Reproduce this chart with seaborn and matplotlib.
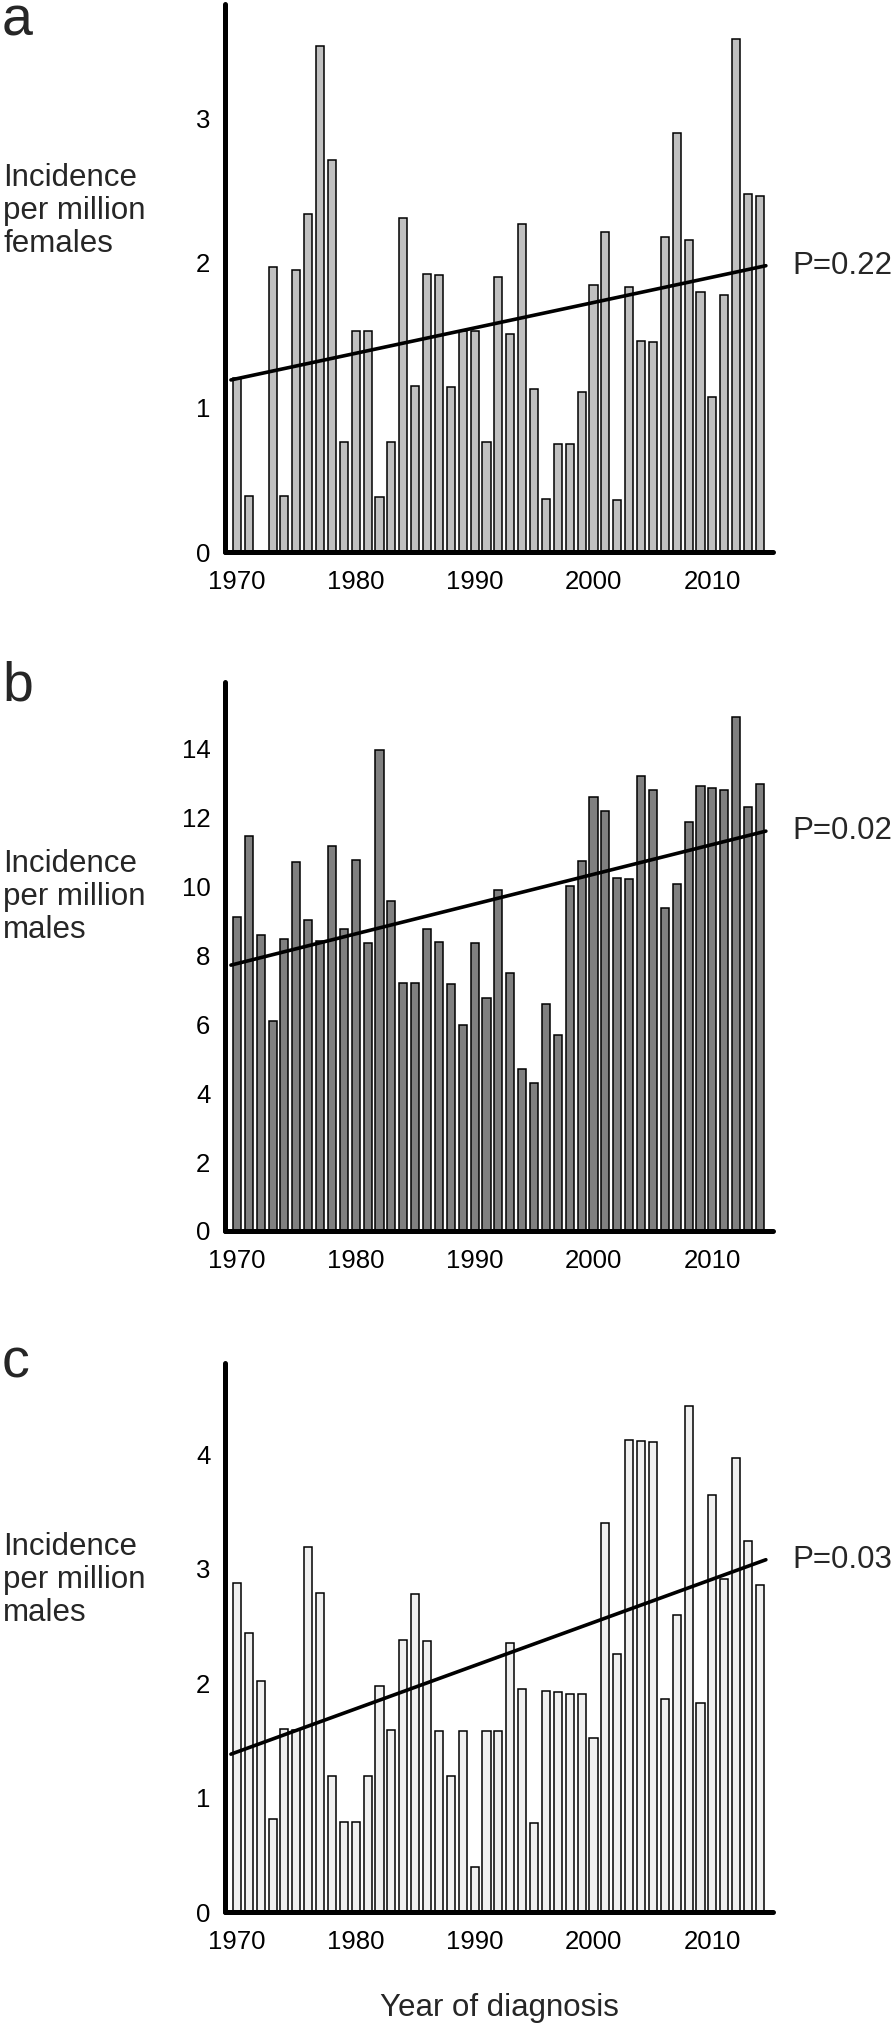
import numpy as np
import pandas as pd
import matplotlib
matplotlib.use("Agg")
import matplotlib.pyplot as plt
import seaborn as sns

# Incidence per million, one bar per year of diagnosis
years = list(range(1970, 2015))

females = [1.20, 0.39, 0.0, 1.97, 0.385, 1.95, 2.34, 3.50, 2.71, 0.76,
           1.53, 1.53, 0.38, 0.76, 2.31, 1.15, 1.92, 1.915, 1.14, 1.53,
           1.53, 0.76, 1.90, 1.51, 2.27, 1.13, 0.365, 0.745, 0.745, 1.11,
           1.85, 2.21, 0.36, 1.83, 1.46, 1.455, 2.18, 2.90, 2.16, 1.795,
           1.07, 1.775, 3.55, 2.475, 2.46]

males_b = [9.11, 11.47, 8.58, 6.09, 8.47, 10.71, 9.02, 8.42, 11.19, 8.78,
           10.77, 8.37, 13.97, 9.59, 7.20, 7.20, 8.78, 8.38, 7.17, 5.98,
           8.37, 6.76, 9.90, 7.49, 4.71, 4.31, 6.60, 5.70, 10.01, 10.74,
           12.61, 12.19, 10.24, 10.22, 13.20, 12.79, 9.38, 10.08, 11.88, 12.92,
           12.86, 12.79, 14.93, 12.32, 12.99]

males_c = [2.88, 2.44, 2.02, 0.81, 1.60, 1.595, 3.19, 2.79, 1.19, 0.79,
           0.79, 1.19, 1.98, 1.59, 2.38, 2.78, 2.37, 1.58, 1.19, 1.58,
           0.39, 1.58, 1.58, 2.35, 1.95, 0.78, 1.93, 1.92, 1.91, 1.91,
           1.52, 3.40, 2.26, 4.13, 4.12, 4.11, 1.86, 2.60, 4.42, 1.83,
           3.65, 2.91, 3.97, 3.24, 2.86]

# fitted trend lines (start / end)
trend_years = [1969.5, 2014.5]
trend_a = [1.19, 1.98]
trend_b = [7.72, 11.61]
trend_c = [1.38, 3.08]

p_labels = ["P=0.22", "P=0.02", "P=0.03"]
panel_letters = ["a", "b", "c"]
ylabels = ["Incidence\nper million\nfemales",
           "Incidence\nper million\nmales",
           "Incidence\nper million\nmales"]
yticks = [[0, 1, 2, 3], [0, 2, 4, 6, 8, 10, 12, 14], [0, 1, 2, 3, 4]]
ytops = [3.79, 15.94, 4.80]
xticks = [1970, 1980, 1990, 2000, 2010]

sns.set_theme(style="white")
plt.rcParams['font.family'] = ['Liberation Sans', 'DejaVu Sans']

W, H = 894, 2028
fig = plt.figure(figsize=(W / 100, H / 100), dpi=100)

# pixel layout of the three panels (top, bottom of the y spine)
left_px, right_px = 225, 773
panel_px = [(4, 552), (682, 1231), (1363, 1912)]
label_y_px = [211, 897, 1580]
letter_y_px = [36, 701, 1378]

series = [females, males_b, males_c]
trends = [trend_a, trend_b, trend_c]
colors = ["#c0c0c0", "#808080", "#f0f0f0"]

for i in range(3):
    top, bot = panel_px[i]
    ax = fig.add_axes([left_px / W, 1 - bot / H, (right_px - left_px) / W, (bot - top) / H])
    df = pd.DataFrame({"year": years, "value": series[i]})
    sns.barplot(data=df, x="year", y="value", native_scale=True, width=0.68,
                color=colors[i], saturation=1, edgecolor="black", linewidth=1.1,
                errorbar=None, ax=ax)
    sns.lineplot(x=trend_years, y=trends[i], color="black", linewidth=2.6, ax=ax)
    ax.text(2016.7, trends[i][1], p_labels[i], fontsize=22.5, ha="left", va="center",
            clip_on=False)

    ax.set_xlim(1969.0, 2015.1)
    ax.set_ylim(0, ytops[i])
    ax.set_xticks(xticks)
    ax.set_yticks(yticks[i])
    ax.set_xlabel("")
    ax.set_ylabel("")
    ax.tick_params(axis="both", length=0, labelsize=18.5, colors="black")
    ax.tick_params(axis="x", pad=13)
    ax.tick_params(axis="y", pad=10.5)
    for side in ["top", "right"]:
        ax.spines[side].set_visible(False)
    for side in ["left", "bottom"]:
        ax.spines[side].set_linewidth(3.6)
        ax.spines[side].set_color("black")
        ax.spines[side].set_capstyle("round")
    ax.set_facecolor("none")

    fig.text(3 / W, 1 - label_y_px[i] / H, ylabels[i], fontsize=22.5,
             ha="left", va="center", linespacing=1.15)
    fig.text(2 / W, 1 - letter_y_px[i] / H, panel_letters[i], fontsize=40,
             ha="left", va="baseline")

fig.text((left_px + right_px) / 2 / W, 1 - 2008 / H, "Year of diagnosis",
         fontsize=22.5, ha="center", va="center")

fig.savefig("out.png", dpi=100)
